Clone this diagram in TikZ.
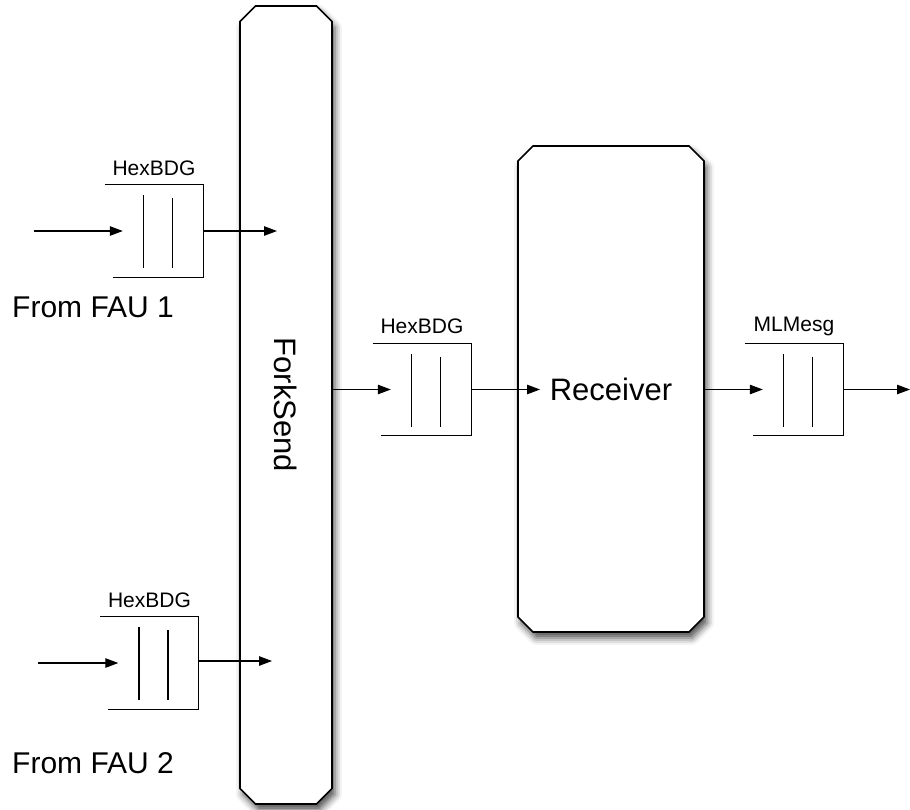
\documentclass[tikz,border=0pt]{standalone}
\usepackage{fontspec}
\setmainfont{Liberation Sans}
\usepackage{graphicx}
\usetikzlibrary{calc,arrows.meta,shapes.misc,shadows.blur}

\tikzset{
  flow/.style={line width=1.1pt,-{Triangle[length=13pt,width=9.5pt]}},
  block/.style={chamfered rectangle,chamfered rectangle xsep=12pt,draw,
    line width=1.6pt,fill=white,inner sep=0pt,
    blur shadow={shadow xshift=3pt,shadow yshift=-6pt,
      shadow blur radius=7pt,shadow opacity=70},
    font=\fontsize{31}{37}\selectfont},
  queue/.style={minimum width=98pt,minimum height=92pt,inner sep=0pt},
  qname/.style={font=\fontsize{21}{25}\selectfont,inner sep=0pt},
  source/.style={font=\fontsize{30}{36}\selectfont,anchor=west,inner sep=0pt},
}

% a buffer: open on the left, two bars inside, its name above
\newcommand{\buffer}[2]{%
  \draw[line width=1.1pt] (#1.north west) -- (#1.north east)
    -- (#1.south east) -- ($(#1.south west)+(8,0)$);
  \draw[line width=1.1pt] ($(#1.center)+(-10.5,-36)$) -- ($(#1.center)+(-10.5,37)$);
  \draw[line width=1.1pt] ($(#1.center)+(18.5,-33)$) -- ($(#1.center)+(18.5,37)$);
  \node[qname] (#1-name) at ($(#1.center)+(0,-63)$) {#2};
  \coordinate (#1-in) at ($(#1.west)+(18,0)$);
}

\begin{document}
\begin{tikzpicture}[x=1pt,y=-1pt,line cap=butt,line join=miter]
  \useasboundingbox (0,0) rectangle (910,809);
  % the two blocks
  \node[block,minimum width=92pt,minimum height=798pt] (fork) at (286,405)
    {\rotatebox{-90}{ForkSend}};
  \node[block,minimum width=186pt,minimum height=486pt] (recv) at (611,389)
    {Receiver};
  % buffers
  \node[queue] (q1) at (154,231) {};
  \buffer{q1}{HexBDG}
  \node[queue] (q2) at (149.5,663) {};
  \buffer{q2}{HexBDG}
  \node[queue] (q3) at (422,389.5) {};
  \buffer{q3}{HexBDG}
  \node[queue] (q4) at (794,389.5) {};
  \buffer{q4}{MLMesg}
  % sources
  \node[source] (fau1) at (12,307) {From FAU 1};
  \node[source] (fau2) at (12,763) {From FAU 2};
  \coordinate (s1) at (34,231);
  \coordinate (s2) at (38,663);
  \coordinate (f1) at (277,231);
  \coordinate (f2) at (272,661);
  \coordinate (r1) at (540,389.5);
  \coordinate (out) at (910,389.5);
  % flows
  \draw[flow] (s1) -- (q1-in);
  \draw[flow] (q1.east) -- (f1);
  \draw[flow] (s2) -- (q2-in);
  \draw[flow] ($(q2.east)+(0,-2)$) -- (f2);
  \draw[flow] (fork.east |- q3) -- (q3-in);
  \draw[flow] (q3.east) -- (r1);
  \draw[flow] (recv.east |- q4) -- (q4-in);
  \draw[flow] (q4.east) -- (out);
\end{tikzpicture}
\end{document}
